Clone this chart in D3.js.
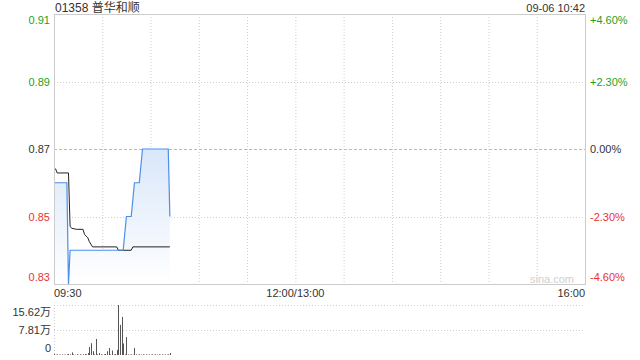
<!DOCTYPE html>
<html>
<head>
<meta charset="utf-8">
<script src="https://cdn.jsdelivr.net/npm/d3@7"></script>
<style>
body { margin:0; background:#fff; }
svg { display:block; font-family:"Liberation Sans", Arial, "Noto Sans CJK SC", sans-serif; }
</style>
</head>
<body>
<script>
var stockTitle = "01358 普华和顺";
var stamp = "09-06 10:42";
var prevClose = 0.87;
var priceTicks = [0.91, 0.89, 0.87, 0.85, 0.83];
var pctTicks = ["+4.60%", "+2.30%", "0.00%", "-2.30%", "-4.60%"];
var timeTicks = [0, 150, 330]; // minutes since 09:30, lunch break collapsed
var timeLabels = ["09:30", "12:00/13:00", "16:00"];
var gridMinutes = [30, 60, 90, 120, 150, 180, 210, 240, 270, 300];

// price line (minute, price)
var priceMin = [0, 8, 9, 10, 43, 45, 48, 50, 53, 55, 71, 72];
var priceVal = [0.86, 0.86, 0.83, 0.84, 0.84, 0.85, 0.85, 0.86, 0.86, 0.87, 0.87, 0.85];

// average price line
var avgMin = [0, 1, 2, 9, 10, 11, 14, 18, 19, 21, 22, 24, 39, 40, 48, 49, 72];
var avgVal = [0.8641, 0.8641, 0.8629, 0.8629, 0.8471, 0.8465, 0.8462, 0.8462, 0.8447, 0.8437, 0.8425, 0.841, 0.841, 0.840, 0.840, 0.841, 0.841];

// volume per minute (万)
var volume = [
  0.3, 0.1, 0.2, 0.1, 0.1, 0.2, 0.1, 0.1, 0.2, 0.3,
  0.2, 0.8, 0.2, 0.1, 0.2, 0.1, 0.2, 0.1, 0.2, 0.3,
  0.2, 0.6, 2.5, 3.7, 1.2, 0.2, 5.0, 0.2, 0.6, 0.2,
  0.1, 0.2, 0.3, 1.2, 2.2, 0.2, 1.4, 0.2, 0.3, 1.6,
  15.62, 9.4, 11.9, 3.6, 0.2, 5.6, 0.2, 0.1, 0.2, 0.1,
  2.2, 0.2, 0.1, 0.2, 0.1, 0.2, 0.1, 0.2, 0.1, 0.2,
  0.1, 0.2, 0.1, 0.2, 0.1, 0.2, 0.1, 0.2, 0.1, 0.2,
  0.1, 0.2, 0.6
];
var volTicks = [15.62, 7.81, 0];
var volLabels = ["15.62万", "7.81万", "0"];

var green = "#1f9f1f", red = "#ea3333", dark = "#333";
var L = 54, R = 585, T = 14, B = 284, VT = 305, VB = 355;

var svg = d3.select("body").append("svg").attr("width", 640).attr("height", 360);

var x = d3.scaleLinear().domain([0, 330]).range([L, R]);
var y = d3.scaleLinear().domain([0.83, 0.91]).range([B, T]);
var yv = d3.scaleLinear().domain([0, 15.62]).range([VB, VT]);

function colorOf(v) { return Math.abs(v - prevClose) < 1e-6 ? dark : (v > prevClose ? green : red); }
function clampY(py) { return Math.max(T + 6, Math.min(B - 7, py)); }

// gradient
var grad = svg.append("defs").append("linearGradient").attr("id", "g")
  .attr("gradientUnits", "userSpaceOnUse").attr("x1", 0).attr("x2", 0).attr("y1", y(0.87)).attr("y2", B);
grad.append("stop").attr("offset", 0).attr("stop-color", "#d9e7fa");
grad.append("stop").attr("offset", 1).attr("stop-color", "#ffffff");

// grid
svg.selectAll("line.vg").data(gridMinutes).enter().append("line")
  .attr("x1", d => x(d) + 0.5).attr("x2", d => x(d) + 0.5).attr("y1", T).attr("y2", B)
  .attr("stroke", "#cfcfcf").attr("stroke-dasharray", "1,2");
svg.selectAll("line.hg").data([0.89, 0.85]).enter().append("line")
  .attr("x1", L).attr("x2", R).attr("y1", d => Math.round(y(d)) + 0.5).attr("y2", d => Math.round(y(d)) + 0.5)
  .attr("stroke", "#cfcfcf").attr("stroke-dasharray", "1,2");
svg.append("line").attr("x1", L).attr("x2", R).attr("y1", Math.round(y(prevClose)) + 0.5).attr("y2", Math.round(y(prevClose)) + 0.5)
  .attr("stroke", "#f2a878").attr("stroke-dasharray", "3,2");

// area + lines
var pts = priceMin.map((m, i) => [m, priceVal[i]]);
var avg = avgMin.map((m, i) => [m, avgVal[i]]);
svg.append("path").datum(pts)
  .attr("d", d3.area().x(d => x(d[0])).y0(B).y1(d => y(d[1])))
  .attr("fill", "url(#g)");
svg.append("path").datum(avg)
  .attr("d", d3.line().x(d => x(d[0])).y(d => y(d[1])))
  .attr("fill", "none").attr("stroke", "#222").attr("stroke-width", 1);
svg.append("path").datum(pts)
  .attr("d", d3.line().x(d => x(d[0])).y(d => y(d[1])))
  .attr("fill", "none").attr("stroke", "#4b8fe8").attr("stroke-width", 1.2);

// border
svg.append("rect").attr("x", L + 0.5).attr("y", T + 0.5).attr("width", R - L).attr("height", B - T)
  .attr("fill", "none").attr("stroke", "#cccccc");

// watermark
svg.append("text").attr("x", 574).attr("y", 283).attr("text-anchor", "end")
  .attr("font-size", 11).attr("fill", "#d0d0d0").text("sina.com");

// price labels
svg.selectAll("text.p").data(priceTicks).enter().append("text")
  .attr("x", 50).attr("y", d => clampY(y(d)) + 4).attr("text-anchor", "end")
  .attr("font-size", 11).attr("fill", colorOf).text(d => d.toFixed(2));
svg.selectAll("text.pc").data(pctTicks).enter().append("text")
  .attr("x", 590).attr("y", (d, i) => clampY(y(priceTicks[i])) + 4)
  .attr("font-size", 11).attr("fill", (d, i) => colorOf(priceTicks[i])).text(d => d);

// header
svg.append("text").attr("x", 55).attr("y", 12).attr("font-size", 12).attr("fill", dark).text(stockTitle);
svg.append("text").attr("x", 585).attr("y", 12).attr("text-anchor", "end").attr("font-size", 11).attr("fill", dark).text(stamp);

// time labels
svg.selectAll("text.t").data(timeTicks).enter().append("text")
  .attr("x", (d, i) => i == 0 ? x(d) : (i == timeTicks.length - 1 ? x(d) : x(d)))
  .attr("text-anchor", (d, i) => i == 0 ? "start" : (i == timeTicks.length - 1 ? "end" : "middle"))
  .attr("y", 297).attr("font-size", 11).attr("fill", dark)
  .text((d, i) => timeLabels[i]);

// volume chart
svg.selectAll("line.vv").data([15.62, 7.81]).enter().append("line")
  .attr("x1", L).attr("x2", R).attr("y1", d => Math.round(yv(d)) + 0.5).attr("y2", d => Math.round(yv(d)) + 0.5)
  .attr("stroke", "#cfcfcf").attr("stroke-dasharray", "1,2");
svg.append("line").attr("x1", L + 0.5).attr("x2", L + 0.5).attr("y1", VT).attr("y2", VB)
  .attr("stroke", "#cfcfcf").attr("stroke-dasharray", "1,2");
svg.selectAll("rect.v").data(volume).enter().append("rect")
  .attr("x", (d, i) => Math.round(x(i)))
  .attr("y", d => yv(d)).attr("width", 1).attr("height", d => VB - yv(d))
  .attr("fill", "#555");
svg.selectAll("text.vl").data(volTicks).enter().append("text")
  .attr("x", 51).attr("y", d => Math.max(VT + 7, Math.min(VB - 7, yv(d))) + 4).attr("text-anchor", "end")
  .attr("font-size", 11).attr("fill", dark).text((d, i) => volLabels[i]);
</script>
</body>
</html>
